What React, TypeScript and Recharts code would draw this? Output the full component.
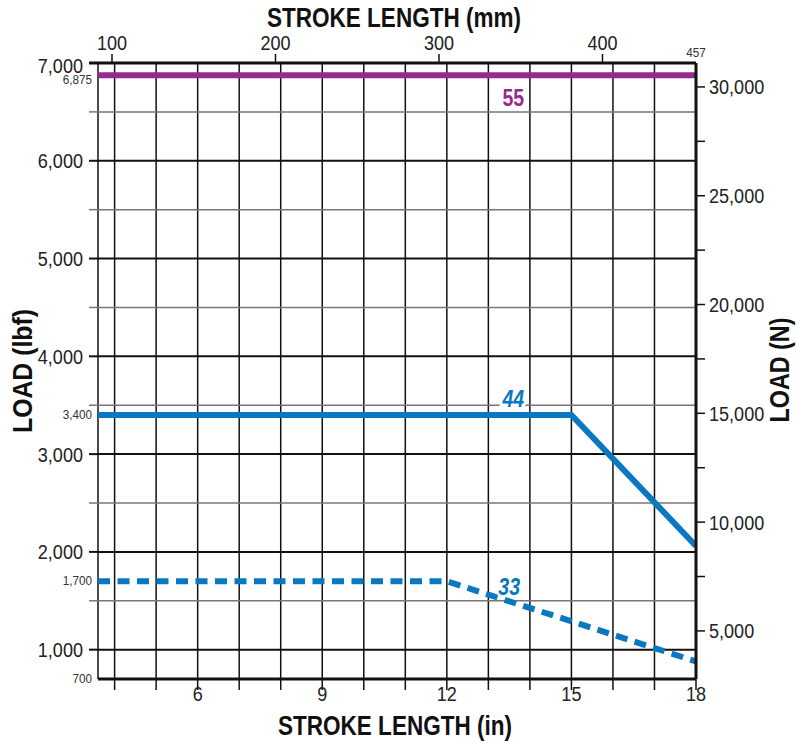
import { LineChart, Line, XAxis, YAxis, CartesianGrid, ReferenceDot } from 'recharts'

// Load vs stroke length chart: three rated curves (55 / 44 / 33),
// lbf on the left, N on the right, inches below and mm on top.

const W = 796
const H = 742
const FONT = '"Liberation Sans", Arial, sans-serif'

const PURPLE = '#952a8f'
const BLUE = '#0a78c0'
const N_PER_LBF = 4.448
const MM_PER_IN = 25.4

// series: stroke (in) / load (lbf)
const stroke55 = [3.6, 18]
const load55 = [6875, 6875]
const stroke44 = [3.6, 15, 18]
const load44 = [3400, 3400, 2060]
const stroke33 = [3.6, 12, 18]
const load33 = [1700, 1700, 880]

// axes
const inDomain = [3.6, 18]
const lbfDomain = [700, 7000]
const nDomain = [2790, 31100] // the printed N scale sits a touch off 4.448 x lbf
const inchTicks = [4, 5, 6, 7, 8, 9, 10, 11, 12, 13, 14, 15, 16, 17, 18]
const inchLabels = [6, 9, 12, 15, 18]
const mmTicks = [100, 200, 300, 400, 457.2]
const lbfMajor = [1000, 2000, 3000, 4000, 5000, 6000, 7000]
const lbfMinor = [1500, 2500, 3500, 4500, 5500, 6500]
const lbfMarks = [700, 1700, 3400, 6875]
const newtonTicks = [5000, 7500, 10000, 12500, 15000, 17500, 20000, 22500, 25000, 27500, 30000]
const newtonLabels = [5000, 10000, 15000, 20000, 25000, 30000]

// curve names and where their tags sit (in, lbf)
const curveNames = ['55', '44', '33']
const curveColors = [PURPLE, BLUE, BLUE]
const curveTagIn = [13.6, 13.6, 13.5]
const curveTagLbf = [6640, 3555, 1640]

const toPoints = (xs: number[], ys: number[]) => xs.map((x, i) => ({ inch: x, lbf: ys[i] }))
const toMetric = (xs: number[], ys: number[]) =>
  xs.map((x, i) => ({ mm: x * MM_PER_IN, n: ys[i] * N_PER_LBF }))
const fmt = (v: number) => Math.round(v).toLocaleString('en-US')

// narrow text: the original uses a condensed face, squeeze Liberation Sans instead
const Narrow = ({ x, y, size, anchor = 'start', baseline, sx = 0.86, fill = '#222', children }: any) => (
  <g transform={`translate(${x} ${y}) scale(${sx} 1)`}>
    <text x={0} y={0} textAnchor={anchor} dominantBaseline={baseline}
      fontFamily={FONT} fontSize={size} fill={fill}>{children}</text>
  </g>
)

const LbfTick = ({ x, y, payload }: any) => {
  const v = payload.value
  const major = lbfMajor.includes(v)
  const minor = lbfMinor.includes(v)
  const mark = lbfMarks.includes(v)
  return (
    <g>
      {(major || minor) && (
        <line x1={x - 9} x2={x} y1={y} y2={y}
          stroke={major ? '#111' : '#777'} strokeWidth={major ? (v === 7000 ? 3 : 2) : 1.5} />
      )}
      {major && (
        <Narrow x={x - 15} y={y + (v === 7000 ? 2 : 0)} size={21} anchor="end" baseline="central">
          {fmt(v)}
        </Narrow>
      )}
      {mark && (
        <Narrow x={x - 6} y={y + (v === 6875 ? 5 : 0)} size={13} anchor="end" baseline="central"
          sx={0.9} fill="#333">
          {fmt(v)}
        </Narrow>
      )}
    </g>
  )
}

const NewtonTick = ({ x, y, payload }: any) => {
  const v = payload.value
  return (
    <g>
      <line x1={x} x2={x + 9} y1={y} y2={y} stroke="#111" strokeWidth={1.5} />
      {newtonLabels.includes(v) && <Narrow x={x + 13} y={y} size={21} baseline="central">{fmt(v)}</Narrow>}
    </g>
  )
}

const InchTick = ({ x, y, payload }: any) => {
  const v = payload.value
  return (
    <g>
      <line x1={x} x2={x} y1={y} y2={y + 11} stroke="#111" strokeWidth={1.5} />
      {inchLabels.includes(v) && <Narrow x={x} y={y + 22} size={21} anchor="middle">{v}</Narrow>}
    </g>
  )
}

const MmTick = ({ x, y, payload }: any) => {
  const v = payload.value
  if (v > 450) {
    return <Narrow x={x} y={y - 6} size={13} anchor="middle" sx={0.9} fill="#333">{Math.floor(v)}</Narrow>
  }
  return (
    <g>
      <line x1={x} x2={x} y1={y - 9} y2={y - 1} stroke="#111" strokeWidth={1.5} />
      <Narrow x={x} y={y - 13} size={21} anchor="middle">{v}</Narrow>
    </g>
  )
}

const CurveTag = (name: string, color: string, italic: boolean) => (p: any) => (
  <g transform={`translate(${p.cx} ${p.cy}) scale(0.85 1)`}>
    <text x={0} y={0} textAnchor="middle" dominantBaseline="central"
      fontFamily={FONT} fontSize={23} fontWeight="bold" fontStyle={italic ? 'italic' : 'normal'}
      fill={color} stroke="#fff" strokeWidth={5} paintOrder="stroke">{name}</text>
  </g>
)

export default function App() {
  return (
    <div style={{ position: 'absolute', left: 0, top: 0, width: W, height: H, background: '#fff' }}>
      <LineChart width={W} height={H} margin={{ top: 0, right: 0, bottom: 0, left: 0 }}>
        <CartesianGrid xAxisId="in" yAxisId="lbf" horizontal={false} stroke="#111" strokeWidth={1.5} />
        <CartesianGrid xAxisId="in" yAxisId="lbf" vertical={false} horizontalValues={lbfMinor}
          stroke="#777" strokeWidth={1.5} />
        <CartesianGrid xAxisId="in" yAxisId="lbf" vertical={false} horizontalValues={lbfMajor}
          stroke="#111" strokeWidth={2} />

        <XAxis xAxisId="in" type="number" dataKey="inch" domain={inDomain} ticks={inchTicks}
          allowDataOverflow interval={0} height={63} tickSize={0} tickMargin={0} tickLine={false}
          axisLine={{ stroke: '#111', strokeWidth: 3 }} tick={<InchTick />} />
        <XAxis xAxisId="mm" orientation="top" type="number" dataKey="mm"
          domain={[inDomain[0] * MM_PER_IN, inDomain[1] * MM_PER_IN]} ticks={mmTicks}
          allowDataOverflow interval={0} height={63} tickSize={0} tickMargin={0} tickLine={false}
          axisLine={{ stroke: '#111', strokeWidth: 3 }} tick={<MmTick />} />
        <YAxis yAxisId="lbf" type="number" domain={lbfDomain}
          ticks={[...lbfMajor, ...lbfMinor, ...lbfMarks].sort((a, b) => a - b)}
          allowDataOverflow interval={0} width={98} tickSize={0} tickMargin={0} tickLine={false}
          axisLine={false} tick={<LbfTick />} />
        <YAxis yAxisId="n" orientation="right" type="number" domain={nDomain} ticks={newtonTicks}
          allowDataOverflow interval={0} width={100} tickSize={0} tickMargin={0} tickLine={false}
          axisLine={{ stroke: '#111', strokeWidth: 3 }} tick={<NewtonTick />} />

        {/* 55 curve in metric units, invisible: keeps the mm / N axes bound to data */}
        <Line xAxisId="mm" yAxisId="n" data={toMetric(stroke55, load55)} dataKey="n"
          stroke="none" dot={false} activeDot={false} isAnimationActive={false} />

        <Line xAxisId="in" yAxisId="lbf" data={toPoints(stroke55, load55)} dataKey="lbf"
          stroke={PURPLE} strokeWidth={6} dot={false} isAnimationActive={false} />
        <Line xAxisId="in" yAxisId="lbf" data={toPoints(stroke44, load44)} dataKey="lbf"
          stroke={BLUE} strokeWidth={6} strokeLinejoin="miter" dot={false} isAnimationActive={false} />
        <Line xAxisId="in" yAxisId="lbf" data={toPoints(stroke33, load33)} dataKey="lbf"
          stroke={BLUE} strokeWidth={6} strokeDasharray="12 7.5" dot={false} isAnimationActive={false} />

        {curveNames.map((name, i) => (
          <ReferenceDot key={name} xAxisId="in" yAxisId="lbf" x={curveTagIn[i]} y={curveTagLbf[i]}
            r={0} shape={CurveTag(name, curveColors[i], i > 0)} />
        ))}
      </LineChart>

      <svg width={W} height={H} style={{ position: 'absolute', left: 0, top: 0, pointerEvents: 'none' }}>
        <g fontFamily={FONT} fontWeight="bold" fontSize={27} fill="#111">
          <text x={394} y={27} textAnchor="middle" textLength={254} lengthAdjust="spacingAndGlyphs">
            STROKE LENGTH (mm)
          </text>
          <text x={395} y={735} textAnchor="middle" textLength={234} lengthAdjust="spacingAndGlyphs">
            STROKE LENGTH (in)
          </text>
          <text transform="translate(32 371) rotate(-90)" textAnchor="middle" textLength={124}
            lengthAdjust="spacingAndGlyphs">LOAD (lbf)</text>
          <text transform="translate(789 370) rotate(-90)" textAnchor="middle" textLength={105}
            lengthAdjust="spacingAndGlyphs">LOAD (N)</text>
        </g>
      </svg>
    </div>
  )
}
